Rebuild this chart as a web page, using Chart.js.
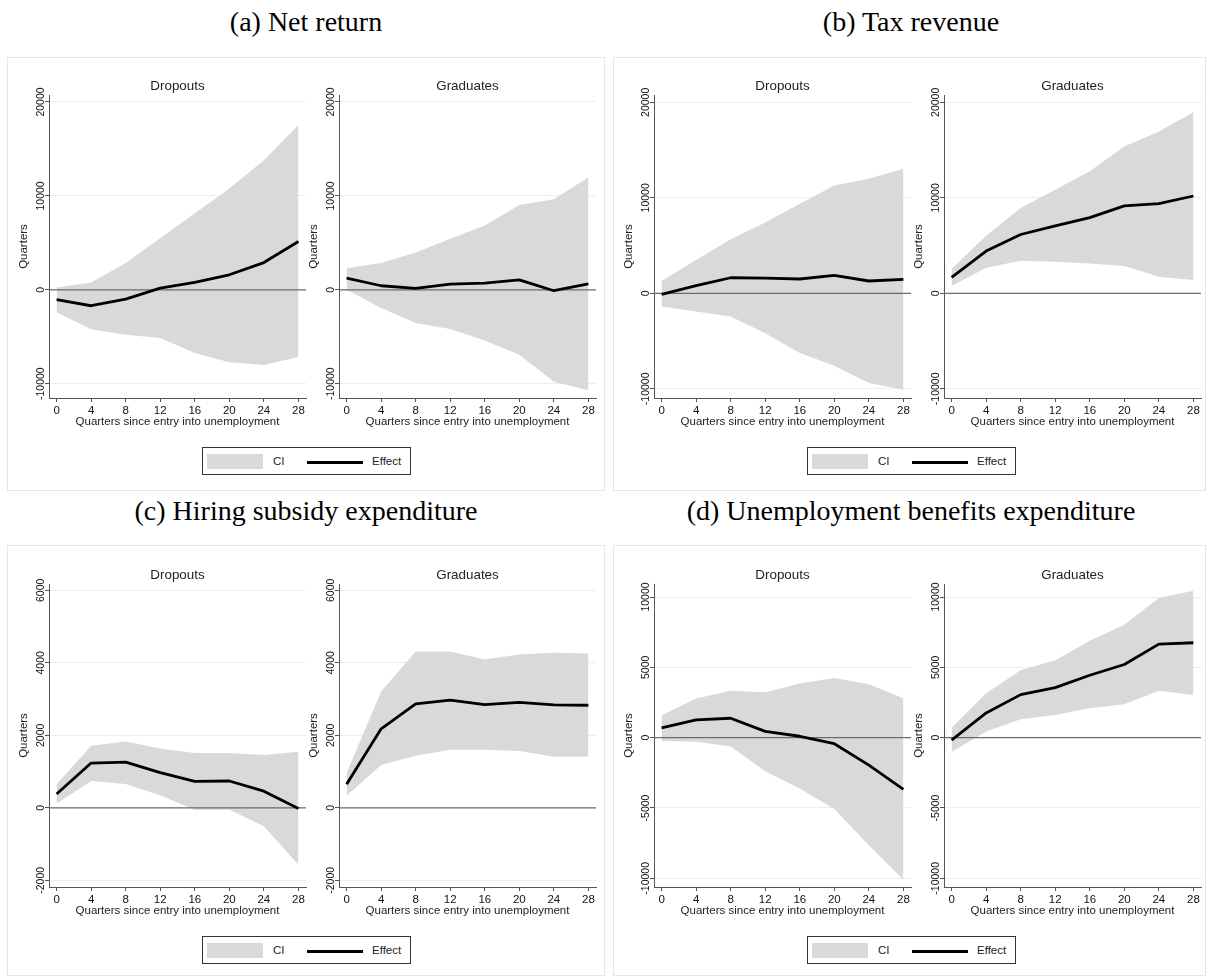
<!DOCTYPE html>
<html>
<head>
<meta charset="utf-8">
<script src="https://cdn.jsdelivr.net/npm/chart.js@4.4.0/dist/chart.umd.min.js"></script>
<style>
  body { margin: 0; background: #fff; width: 1209px; height: 978px; position: relative; overflow: hidden;
         font-family: "Liberation Sans", Arial, sans-serif; }
  .frame { position: absolute; border: 1px solid #e6e6e6; box-sizing: border-box; }
  .ptitle { position: absolute; width: 604px; text-align: center; color: #000;
            font: 28px/28px "Liberation Serif", "Times New Roman", serif; }
  canvas { position: absolute; }
  .legend { position: absolute; width: 209px; height: 28px; border: 1px solid #333; box-sizing: border-box; background: #fff; }
  .legend .sw { position: absolute; left: 4px; top: 6px; width: 56px; height: 15px; background: #d9d9d9; }
  .legend .ln { position: absolute; left: 104px; top: 12.5px; width: 56px; height: 3px; background: #000; }
  .legend span { position: absolute; top: 6px; font-size: 11.5px; line-height: 14px; color: #222; }
</style>
</head>
<body>
<div class="frame" style="left:7px;top:57px;width:598px;height:434px"></div>
<div class="frame" style="left:613px;top:57px;width:593px;height:434px"></div>
<div class="frame" style="left:7px;top:545px;width:598px;height:431px"></div>
<div class="frame" style="left:613px;top:545px;width:593px;height:431px"></div>

<div class="ptitle" style="left:4px;top:8px">(a) Net return</div>
<div class="ptitle" style="left:609px;top:8px">(b) Tax revenue</div>
<div class="ptitle" style="left:4px;top:497px">(c) Hiring subsidy expenditure</div>
<div class="ptitle" style="left:609px;top:497px">(d) Unemployment benefits expenditure</div>

<script>
/* ---------- DATA ---------- */
const QUARTERS = [0, 4, 8, 12, 16, 20, 24, 28];
const X_MIN = -0.88, X_MAX = 28.88;

// (a) Net return
const netDropEffect = [-1060, -1700, -1000, 180, 780, 1600, 2900, 5140];
const netDropLower  = [-2400, -4200, -4800, -5140, -6740, -7730, -8000, -7160];
const netDropUpper  = [250, 780, 2840, 5500, 8160, 10800, 13800, 17550];
const netGradEffect = [1240, 430, 140, 600, 710, 1060, -100, 640];
const netGradLower  = [0, -1950, -3550, -4180, -5390, -6910, -9790, -10700];
const netGradUpper  = [2300, 2840, 3970, 5430, 6840, 9040, 9650, 11990];
const NET_Y_TICKS = [-10000, 0, 10000, 20000];
const NET_Y_RANGE = [-11525, 20745];

// (b) Tax revenue
const taxDropEffect = [-100, 800, 1630, 1600, 1500, 1880, 1290, 1460];
const taxDropLower  = [-1390, -1910, -2430, -4170, -6260, -7580, -9390, -10090];
const taxDropUpper  = [1290, 3480, 5670, 7410, 9390, 11300, 12000, 13040];
const taxGradEffect = [1670, 4420, 6160, 7060, 7930, 9150, 9390, 10190];
const taxGradLower  = [770, 2680, 3410, 3300, 3130, 2850, 1740, 1390];
const taxGradUpper  = [2540, 6020, 8940, 10850, 12770, 15370, 16940, 18960];
const TAX_Y_TICKS = [-10000, 0, 10000, 20000];
const TAX_Y_RANGE = [-10960, 20765];

// (c) Hiring subsidy expenditure
const hireDropEffect = [380, 1235, 1260, 970, 730, 740, 460, -20];
const hireDropLower  = [110, 740, 660, 350, -55, -55, -510, -1570];
const hireDropUpper  = [650, 1710, 1830, 1640, 1510, 1510, 1460, 1550];
const hireGradEffect = [650, 2180, 2870, 2970, 2850, 2910, 2840, 2830];
const hireGradLower  = [330, 1180, 1440, 1600, 1600, 1570, 1410, 1410];
const hireGradUpper  = [960, 3210, 4310, 4310, 4090, 4230, 4280, 4260];
const HIRE_Y_TICKS = [-2000, 0, 2000, 4000, 6000];
const HIRE_Y_RANGE = [-2184, 6175];

// (d) Unemployment benefits expenditure
const ubDropEffect = [690, 1260, 1380, 450, 100, -430, -1950, -3680];
const ubDropLower  = [-240, -290, -620, -2380, -3610, -5080, -7650, -10100];
const ubDropUpper  = [1590, 2780, 3330, 3230, 3850, 4250, 3800, 2800];
const ubGradEffect = [-170, 1760, 3060, 3560, 4440, 5200, 6650, 6750];
const ubGradLower  = [-1020, 430, 1310, 1620, 2090, 2380, 3330, 3040];
const ubGradUpper  = [710, 3160, 4800, 5510, 6890, 8030, 9930, 10450];
const UB_Y_TICKS = [-10000, -5000, 0, 5000, 10000];
const UB_Y_RANGE = [-10618, 10926];

/* ---------- LAYOUT ---------- */
const FONT = '"Liberation Sans", Arial, sans-serif';
const PLOT_W = 257, PLOT_H = 303;
const AXIS_W = 42, TITLE_H = 30, XAXIS_H = 34, PAD_R = 6;

const measure = document.createElement('canvas').getContext('2d');
measure.font = '10.5px ' + FONT;

function pts(arr) {
  return QUARTERS.map((q, i) => ({ x: q, y: arr[i] }));
}

function makeChart(left, top, title, effect, lower, upper, yRange, yTicks) {
  const canvas = document.createElement('canvas');
  canvas.width = PLOT_W + AXIS_W + PAD_R;
  canvas.height = PLOT_H + TITLE_H + XAXIS_H;
  canvas.style.left = (left - AXIS_W) + 'px';
  canvas.style.top = (top - TITLE_H) + 'px';
  document.body.appendChild(canvas);

  // rotated y labels: push the centred label back next to the tick
  const widest = Math.max(...yTicks.map(v => measure.measureText(String(v)).width));
  const yPad = 3.6 - widest / 2;

  new Chart(canvas, {
    type: 'line',
    data: {
      datasets: [
        { label: 'CI', data: pts(upper), borderWidth: 0, pointRadius: 0, fill: '+1',
          backgroundColor: '#d9d9d9', borderColor: '#d9d9d9', order: 3 },
        { label: 'CI low', data: pts(lower), borderWidth: 0, pointRadius: 0, fill: false,
          borderColor: '#d9d9d9', order: 4 },
        { label: 'zero', data: [{ x: X_MIN, y: 0 }, { x: X_MAX, y: 0 }], borderWidth: 1.2,
          borderColor: '#6b6b6b', pointRadius: 0, fill: false, order: 2 },
        { label: 'Effect', data: pts(effect), borderWidth: 2.8, borderColor: '#000',
          pointRadius: 0, fill: false, order: 1, borderJoinStyle: 'round' }
      ]
    },
    options: {
      responsive: false,
      animation: false,
      devicePixelRatio: 1,
      layout: { padding: { left: 0, top: 0, right: PAD_R, bottom: 0 } },
      plugins: {
        legend: { display: false },
        tooltip: { enabled: false },
        title: {
          display: true, text: title, fullSize: false, color: '#222',
          font: { family: FONT, size: 13.4, weight: 'normal', lineHeight: '16px' },
          padding: { top: 13, bottom: 1 }
        }
      },
      scales: {
        x: {
          type: 'linear', min: X_MIN, max: X_MAX,
          afterBuildTicks: s => { s.ticks = QUARTERS.map(v => ({ value: v })); },
          afterFit: s => { s.height = XAXIS_H; },
          grid: { drawOnChartArea: false, tickLength: 4, tickColor: '#555', tickWidth: 1 },
          border: { color: '#555', width: 1 },
          ticks: { color: '#111', padding: 2, maxRotation: 0, autoSkip: false,
                   font: { family: FONT, size: 11.5, lineHeight: '14px' }, callback: v => String(v) },
          title: { display: true, text: 'Quarters since entry into unemployment', color: '#222',
                   font: { family: FONT, size: 11.5, lineHeight: '14px' }, padding: { top: 0, bottom: 3 } }
        },
        y: {
          min: yRange[0], max: yRange[1],
          afterBuildTicks: s => { s.ticks = yTicks.map(v => ({ value: v })); },
          afterFit: s => { s.width = AXIS_W; },
          grid: { color: '#ededed', lineWidth: 1, tickLength: 4, tickColor: '#555', tickWidth: 1 },
          border: { color: '#555', width: 1 },
          ticks: { color: '#111', minRotation: 90, maxRotation: 90, crossAlign: 'center', padding: yPad,
                   autoSkip: false, font: { family: FONT, size: 10.5, lineHeight: '12px' },
                   callback: v => String(v) },
          title: { display: true, text: 'Quarters', color: '#222',
                   font: { family: FONT, size: 11.5, lineHeight: '14px' }, padding: { top: 10, bottom: 0 } }
        }
      }
    }
  });
}

/* ---------- PANELS ---------- */
makeChart(49, 95, 'Dropouts', netDropEffect, netDropLower, netDropUpper, NET_Y_RANGE, NET_Y_TICKS);
makeChart(339, 95, 'Graduates', netGradEffect, netGradLower, netGradUpper, NET_Y_RANGE, NET_Y_TICKS);
makeChart(654, 95, 'Dropouts', taxDropEffect, taxDropLower, taxDropUpper, TAX_Y_RANGE, TAX_Y_TICKS);
makeChart(944, 95, 'Graduates', taxGradEffect, taxGradLower, taxGradUpper, TAX_Y_RANGE, TAX_Y_TICKS);
makeChart(49, 584, 'Dropouts', hireDropEffect, hireDropLower, hireDropUpper, HIRE_Y_RANGE, HIRE_Y_TICKS);
makeChart(339, 584, 'Graduates', hireGradEffect, hireGradLower, hireGradUpper, HIRE_Y_RANGE, HIRE_Y_TICKS);
makeChart(654, 584, 'Dropouts', ubDropEffect, ubDropLower, ubDropUpper, UB_Y_RANGE, UB_Y_TICKS);
makeChart(944, 584, 'Graduates', ubGradEffect, ubGradLower, ubGradUpper, UB_Y_RANGE, UB_Y_TICKS);

/* ---------- LEGENDS ---------- */
[[202, 447], [807, 447], [202, 936], [807, 936]].forEach(([l, t]) => {
  const d = document.createElement('div');
  d.className = 'legend';
  d.style.left = l + 'px';
  d.style.top = t + 'px';
  d.innerHTML = '<div class="sw"></div><span style="left:70px">CI</span>' +
                '<div class="ln"></div><span style="left:169px">Effect</span>';
  document.body.appendChild(d);
});
</script>
</body>
</html>
